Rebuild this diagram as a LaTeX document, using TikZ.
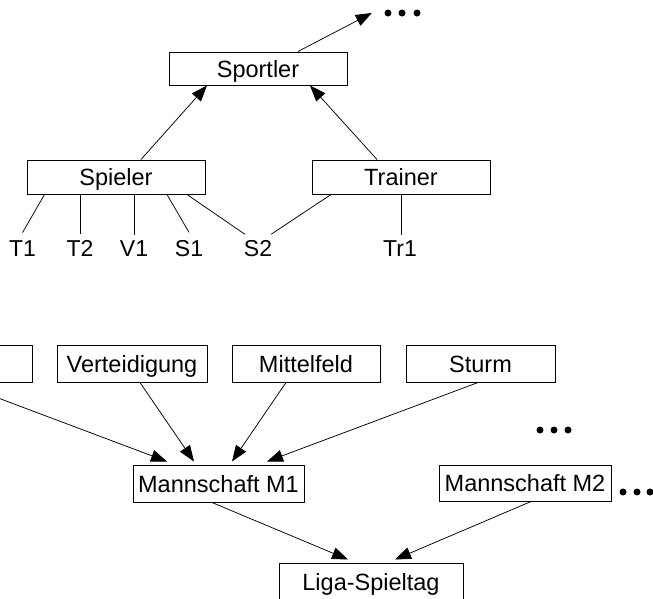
\documentclass[tikz,border=0pt]{standalone}
\usepackage{fontspec}
\setmainfont{Liberation Sans}
\usetikzlibrary{arrows.meta}
\tikzset{
  box/.style={draw=black, line width=1pt, inner sep=0pt, minimum height=35pt, text height=17pt, text depth=0pt, font=\fontsize{23.5}{28}\selectfont},
  lbl/.style={inner sep=0pt, outer sep=0pt, font=\fontsize{23}{28}\selectfont},
  link/.style={line width=0.75pt},
  arr/.style={line width=0.75pt, -{Triangle[length=16pt,width=12pt]}},
  dot/.style={fill=black}
}
\begin{document}
\begin{tikzpicture}[x=1pt,y=-1pt]
\path[use as bounding box] (0,0) rectangle (653,598);
\clip (0,0) rectangle (653,598);
% upper part
\node[box, minimum width=178pt, minimum height=33pt] (sportler) at (258,68.5) {Sportler};
\node[box, minimum width=178pt, minimum height=34pt] (spieler) at (116,177) {Spieler};
\node[box, minimum width=178pt, minimum height=34pt] (trainer) at (401,177) {Trainer};
\node[inner sep=0pt, minimum width=60pt, minimum height=8pt] (topdots) at (402,13) {};
\foreach \x in {388,402,417} \fill[dot] (\x,13) circle (3.5);

\node[lbl] (t1) at (22.5,248.5) {T1};
\node[lbl] (t2) at (80,248.5) {T2};
\node[lbl] (v1) at (134,248.5) {V1};
\node[lbl] (s1) at (189,248.5) {S1};
\node[lbl] (s2) at (258,248.5) {S2};
\node[lbl] (tr1) at (400,248.5) {Tr1};

\draw[arr] ([xshift=40pt]sportler.north) -- (topdots.west);
\draw[arr] ([xshift=25pt]spieler.north) -- ([xshift=-51pt]sportler.south);
\draw[arr] ([xshift=-24pt]trainer.north) -- ([xshift=52pt]sportler.south);

\draw[link] ([xshift=18pt]spieler.south west) -- ([yshift=8pt]t1.north);
\draw[link] (spieler.south -| t2) -- ([yshift=6pt]t2.north);
\draw[link] (spieler.south -| v1) -- ([yshift=6pt]v1.north);
\draw[link] ([xshift=51pt]spieler.south) -- ([yshift=8pt]s1.north);
\draw[link] ([xshift=71pt]spieler.south) -- ([xshift=-13pt,yshift=6pt]s2.north);
\draw[link] ([xshift=-70pt]trainer.south) -- ([xshift=13pt,yshift=6pt]s2.north);
\draw[link] ([xshift=0.5pt]trainer.south) -- ([xshift=1.5pt,yshift=6pt]tr1.north);

% lower part
\node[box, minimum width=150pt, minimum height=37pt] (torwart) at (-43,363.5) {};
\node[box, minimum width=150pt, minimum height=37pt] (vert) at (132,363.5) {Verteidigung};
\node[box, minimum width=148pt, minimum height=37pt] (mittel) at (306,363.5) {Mittelfeld};
\node[box, minimum width=149pt, minimum height=37pt] (sturm) at (480.5,363.5) {Sturm};
\node[box, minimum width=171pt, minimum height=37pt] (m1) at (218.5,483.5) {Mannschaft M1};
\node[box, minimum width=172pt, minimum height=36pt] (m2) at (525,483) {Mannschaft M2};
\node[box, minimum width=184pt, minimum height=37pt] (liga) at (371,581.5) {Liga-Spieltag};

\foreach \x in {540,554,568} \fill[dot] (\x,430) circle (3.5);
\foreach \x in {623,637,650} \fill[dot] (\x,492) circle (3.5);

\draw[arr] (torwart.south) -- ([xshift=-51.5pt,yshift=3pt]m1.north);
\draw[arr] ([xshift=8pt]vert.south) -- ([xshift=-24.5pt,yshift=3pt]m1.north);
\draw[arr] ([xshift=-20pt]mittel.south) -- ([xshift=13.5pt,yshift=3pt]m1.north);
\draw[arr] ([xshift=-2.5pt]sturm.south) -- ([xshift=48.5pt,yshift=3pt]m1.north);
\draw[arr] ([xshift=-6.5pt]m1.south) -- ([xshift=-23pt,yshift=3pt]liga.north);
\draw[arr] ([xshift=6pt]m2.south) -- ([xshift=24pt,yshift=3pt]liga.north);
\end{tikzpicture}
\end{document}
